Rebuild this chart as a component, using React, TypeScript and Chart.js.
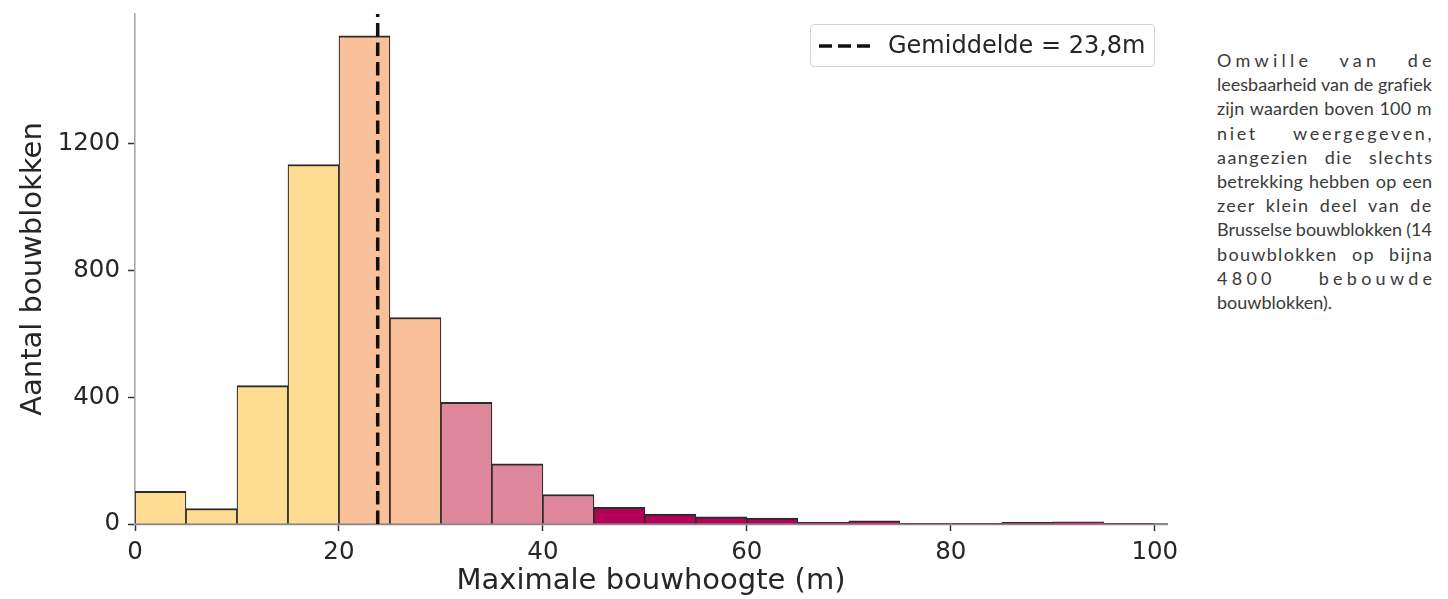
import React, { useEffect, useRef } from "react";
import { Chart, registerables } from "chart.js";

Chart.register(...registerables);

// ---------- data ----------
const binStarts = [0, 5, 10, 15, 20, 25, 30, 35, 40, 45, 50, 55, 60, 65, 70, 75, 80, 85, 90, 95];
const binWidth = 5;
const counts = [103, 49, 437, 1135, 1541, 652, 384, 190, 93, 53, 31, 23, 19, 6, 10, 2, 1, 5, 7, 2];
const binColors = [
  "#FEDC91", "#FEDC91", "#FEDC91", "#FEDC91",
  "#FAC09A", "#FAC09A",
  "#DE869A", "#DE869A", "#DE869A",
  "#B5005A", "#B5005A", "#B5005A", "#B5005A", "#B5005A", "#B5005A",
  "#B5005A", "#B5005A", "#B5005A", "#B5005A", "#B5005A",
];
const meanHeight = 23.8;
const meanLabel = "Gemiddelde = 23,8m";
const xTicks = [0, 20, 40, 60, 80, 100];
const yTicks = [0, 400, 800, 1200];
const xMax = 101.2;
const yMax = 1610;
const xTitle = "Maximale bouwhoogte (m)";
const yTitle = "Aantal bouwblokken";
const noteLines = [
  "Omwille van de",
  "leesbaarheid van de grafiek",
  "zijn waarden boven 100 m",
  "niet weergegeven,",
  "aangezien die slechts",
  "betrekking hebben op een",
  "zeer klein deel van de",
  "Brusselse bouwblokken (14",
  "bouwblokken op bijna",
  "4800 bebouwde",
  "bouwblokken).",
];

// ---------- layout constants ----------
const FONT = "'DejaVu Sans', sans-serif";
const TEXT = "#262626";
const NOTE_FONT_SIZE = 18;
const NOTE_WEIGHT = 400;
const NOTE_FONT = `${NOTE_WEIGHT} ${NOTE_FONT_SIZE}px Lato`;
const NOTE_WIDTH = 215;

let measureCtx: CanvasRenderingContext2D | null = null;
function justify(line: string, last: boolean): React.CSSProperties {
  if (last) return {};
  if (!measureCtx) measureCtx = document.createElement("canvas").getContext("2d");
  const ctx = measureCtx!;
  ctx.font = NOTE_FONT;
  const w = ctx.measureText(line).width;
  const extra = NOTE_WIDTH - w;
  const n = line.length;
  const spaces = (line.match(/ /g) || []).length;
  if (extra >= 0) {
    if (spaces === 0) return { letterSpacing: extra / (n - 1) + "px" };
    return {
      letterSpacing: (extra * 0.6) / (n - 1) + "px",
      wordSpacing: (extra * 0.4) / spaces + "px",
    };
  }
  return { wordSpacing: (spaces ? extra / spaces : 0) + "px" };
}

export default function App() {
  const canvasRef = useRef<HTMLCanvasElement | null>(null);

  useEffect(() => {
    const canvas = canvasRef.current;
    if (!canvas) return;
    const tickGrid = {
      drawOnChartArea: false,
      drawTicks: true,
      offset: false,
      tickLength: 7,
      color: "#333333",
      tickColor: "#333333",
      tickWidth: 1.5,
    };
    const chart = new Chart(canvas, {
      type: "bar",
      data: {
        datasets: [
          {
            type: "line",
            label: meanLabel,
            data: [
              { x: meanHeight, y: 0 },
              { x: meanHeight, y: yMax },
            ],
            borderColor: "#111111",
            borderWidth: 3.5,
            borderDash: [13.5, 6],
            pointRadius: 0,
            order: 0,
          } as any,
          {
            type: "bar",
            label: "bouwblokken",
            data: binStarts.map((s, i) => ({ x: s + binWidth / 2, y: counts[i] })),
            backgroundColor: binColors,
            borderColor: "#2b2b2b",
            borderWidth: { top: 2, left: 1.2, right: 1.2, bottom: 0 },
            borderSkipped: false,
            barPercentage: 1,
            categoryPercentage: 1,
            order: 1,
          } as any,
        ],
      },
      options: {
        animation: false,
        responsive: false,
        layout: { padding: { left: 0, top: 14, right: 23, bottom: 0 } },
        plugins: {
          legend: { display: false },
          tooltip: { enabled: false },
        },
        scales: {
          x: {
            type: "linear",
            min: 0,
            max: xMax,
            offset: false,
            afterBuildTicks: (s: any) => {
              s.ticks = xTicks.map((v) => ({ value: v }));
            },
            afterFit: (s: any) => {
              s.height = 75;
              s.paddingLeft = 0;
              s.paddingRight = 0;
            },
            grid: tickGrid,
            border: { display: true, color: "#8a8a8a", width: 2.2 },
            ticks: {
              color: TEXT,
              font: { family: FONT, size: 24.5, lineHeight: 1.2 },
              padding: 7,
              maxRotation: 0,
              autoSkip: false,
              callback: (v: any) => String(v),
            },
            title: {
              display: true,
              text: xTitle,
              color: TEXT,
              font: { family: FONT, size: 29, lineHeight: 1.2 },
              padding: { top: 0, bottom: 0.5 },
            },
          },
          y: {
            type: "linear",
            min: 0,
            max: yMax,
            afterBuildTicks: (s: any) => {
              s.ticks = yTicks.map((v) => ({ value: v }));
            },
            afterFit: (s: any) => {
              s.width = 135;
              s.paddingTop = 0;
              s.paddingBottom = 0;
            },
            grid: tickGrid,
            border: { display: true, color: "#a8a8a8", width: 1.6 },
            ticks: {
              color: TEXT,
              font: { family: FONT, size: 24.5, lineHeight: 1.2 },
              padding: 8,
              autoSkip: false,
              callback: (v: any) => String(v),
            },
            title: {
              display: true,
              text: yTitle,
              color: TEXT,
              font: { family: FONT, size: 29, lineHeight: 1.2 },
              padding: { top: 15.6, bottom: 0 },
            },
          },
        },
      } as any,
    });
    return () => chart.destroy();
  }, []);

  return (
    <div
      style={{
        position: "absolute",
        left: 0,
        top: 0,
        width: 1448,
        height: 599,
        background: "#ffffff",
        overflow: "hidden",
      }}
    >
      <canvas
        ref={canvasRef}
        width={1190}
        height={599}
        style={{ position: "absolute", left: 0, top: 0, display: "block" }}
      />
      {/* legend */}
      <div
        style={{
          position: "absolute",
          left: 810,
          top: 24,
          width: 345,
          height: 43,
          boxSizing: "border-box",
          border: "1px solid #d4d4d4",
          borderRadius: 4,
          background: "rgba(255,255,255,0.85)",
        }}
      >
        <svg width={52} height={8} style={{ position: "absolute", left: 8, top: 17 }}>
          <line
            x1={0}
            y1={4}
            x2={52}
            y2={4}
            stroke="#111111"
            strokeWidth={3.5}
            strokeDasharray="13 6"
          />
        </svg>
        <div
          style={{
            position: "absolute",
            left: 77,
            top: 0,
            height: 41,
            lineHeight: "41px",
            fontFamily: FONT,
            fontSize: 24,
            color: TEXT,
            whiteSpace: "nowrap",
          }}
        >
          {meanLabel}
        </div>
      </div>
      {/* side note */}
      <div
        style={{
          position: "absolute",
          left: 1217,
          top: 48,
          width: NOTE_WIDTH,
          fontFamily: "Lato, sans-serif",
          fontWeight: NOTE_WEIGHT,
          fontSize: NOTE_FONT_SIZE,
          lineHeight: "24.2px",
          color: "#3a3a3a",
        }}
      >
        {noteLines.map((line, i) => (
          <div key={i} style={{ whiteSpace: "pre", ...justify(line, i === noteLines.length - 1) }}>
            {line}
          </div>
        ))}
      </div>
    </div>
  );
}
